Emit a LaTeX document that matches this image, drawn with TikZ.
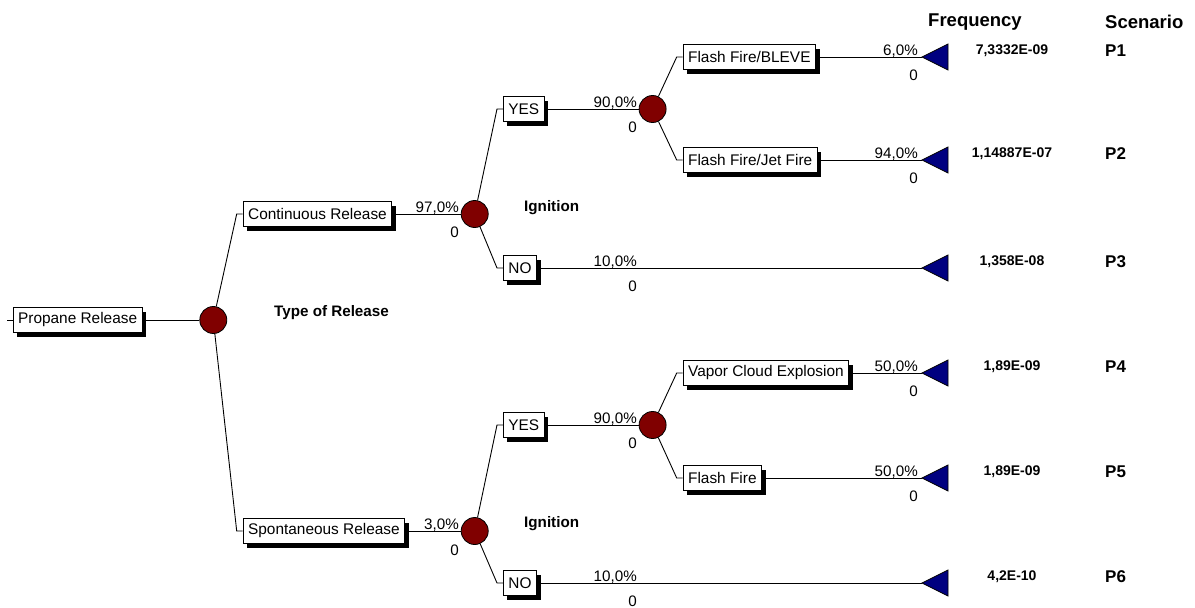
\documentclass[tikz,border=0pt]{standalone}
\usepackage{fontspec}
\setmainfont{Liberation Sans}
\usetikzlibrary{shadows,calc}
\definecolor{chancefill}{RGB}{128,0,0}
\definecolor{endfill}{RGB}{0,0,128}

\tikzset{
  edge/.style={line width=0.9pt},
  eventbox/.style={draw, line width=0.9pt, fill=white, anchor=west,
    minimum height=25pt, inner xsep=5pt, inner ysep=0pt,
    font=\fontsize{15.4}{15.4}\selectfont,
    drop shadow={shadow xshift=4pt, shadow yshift=-4pt, fill=black, opacity=1}},
  chancenode/.style={circle, draw, fill=chancefill, minimum size=27pt,
    inner sep=0pt, line width=0.8pt},
  endtri/.style={draw, fill=endfill, line width=0.8pt},
  prob/.style={anchor=base east, inner sep=0pt, font=\fontsize{15.2}{15.2}\selectfont},
  payoff/.style={anchor=east, inner sep=0pt, font=\fontsize{15.2}{15.2}\selectfont},
  stage/.style={anchor=west, inner sep=0pt, font=\bfseries\fontsize{15.2}{15.2}\selectfont},
  freq/.style={inner sep=0pt, font=\bfseries\fontsize{14}{14}\selectfont},
  scen/.style={anchor=west, inner sep=0pt, font=\bfseries\fontsize{17}{17}\selectfont},
  header/.style={inner sep=0pt, font=\bfseries\fontsize{18.5}{18.5}\selectfont},
}

% branch from a chance node to an event box: slanted line, then a short stub
\newcommand{\branch}[2]{\draw[edge] (#1) -- ($(#2.west)+(-6,0)$) -- (#2.west);}
% terminal triangle whose tip is the named coordinate
\newcommand{\terminaltri}[1]{\filldraw[endtri] (#1) -- ++(26,-13) -- ++(0,26) -- cycle;}

\begin{document}
\begin{tikzpicture}[x=1pt,y=-1pt]
\useasboundingbox (0,0) rectangle (1195,608);

% ---- headers
\node[header] (hfreq) at (975,22) {Frequency};
\node[header,anchor=west] (hscen) at (1105,22) {Scenario};

% ---- root
\node[eventbox] (root) at (12.7,320) {Propane Release};
\node[chancenode] (c0) at (213.3,320) {};
\draw[edge] (root.west) -- ++(-6,0);
\draw[edge] (root.east) -- (c0);
\node[stage] (lrel) at (274,313) {Type of Release};

% ---- type of release
\node[eventbox] (cont) at (242.7,214) {Continuous Release};
\node[eventbox] (spon) at (242.7,531) {Spontaneous Release};
\branch{c0}{cont}
\branch{c0}{spon}

\node[chancenode] (c1) at (474.7,214) {};
\node[chancenode] (c2) at (474.7,531) {};
\draw[edge] (cont.east) -- (c1);
\draw[edge] (spon.east) -- (c2);
\node[prob] (p1) at (459,212) {97,0\%};
\node[payoff] (v1) at (459,232) {0};
\node[prob] (p2) at (459,529) {3,0\%};
\node[payoff] (v2) at (459,550) {0};
\node[stage] (lign1) at (524,208) {Ignition};
\node[stage] (lign2) at (524,524) {Ignition};

% ---- ignition, continuous release
\node[eventbox] (yes1) at (503,109) {YES};
\node[eventbox] (no1) at (503,268) {NO};
\branch{c1}{yes1}
\branch{c1}{no1}
\node[chancenode] (c3) at (652.6,109) {};
\draw[edge] (yes1.east) -- (c3);
\node[prob] (p3) at (637,107) {90,0\%};
\node[payoff] (v3) at (637,127) {0};
\coordinate (t3) at (922,268);
\draw[edge] (no1.east) -- (t3);
\node[prob] (p4) at (637,266) {10,0\%};
\node[payoff] (v4) at (637,286) {0};

% ---- outcomes, continuous release
\node[eventbox] (bleve) at (682.7,57) {Flash Fire/BLEVE};
\node[eventbox] (jet) at (682.7,160) {Flash Fire/Jet Fire};
\branch{c3}{bleve}
\branch{c3}{jet}
\coordinate (t1) at (922,57);
\coordinate (t2) at (922,160);
\draw[edge] (bleve.east) -- (t1);
\draw[edge] (jet.east) -- (t2);
\node[prob] (p5) at (918,55) {6,0\%};
\node[payoff] (v5) at (918,75) {0};
\node[prob] (p6) at (918,158) {94,0\%};
\node[payoff] (v6) at (918,178) {0};

% ---- ignition, spontaneous release
\node[eventbox] (yes2) at (503,425) {YES};
\node[eventbox] (no2) at (503,583) {NO};
\branch{c2}{yes2}
\branch{c2}{no2}
\node[chancenode] (c4) at (652.6,425) {};
\draw[edge] (yes2.east) -- (c4);
\node[prob] (p7) at (637,423) {90,0\%};
\node[payoff] (v7) at (637,443) {0};
\coordinate (t6) at (922,583);
\draw[edge] (no2.east) -- (t6);
\node[prob] (p8) at (637,581) {10,0\%};
\node[payoff] (v8) at (637,601) {0};

% ---- outcomes, spontaneous release
\node[eventbox] (vce) at (682.7,373) {Vapor Cloud Explosion};
\node[eventbox] (ff) at (682.7,478) {Flash Fire};
\branch{c4}{vce}
\branch{c4}{ff}
\coordinate (t4) at (922,373);
\coordinate (t5) at (922,478);
\draw[edge] (vce.east) -- (t4);
\draw[edge] (ff.east) -- (t5);
\node[prob] (p9) at (918,371) {50,0\%};
\node[payoff] (v9) at (918,391) {0};
\node[prob] (p10) at (918,476) {50,0\%};
\node[payoff] (v10) at (918,496) {0};

% ---- terminal nodes
\terminaltri{t1}
\terminaltri{t2}
\terminaltri{t3}
\terminaltri{t4}
\terminaltri{t5}
\terminaltri{t6}

% ---- frequencies and scenarios
\node[freq] (f1) at (1012,51) {7,3332E-09};
\node[freq] (f2) at (1012,154) {1,14887E-07};
\node[freq] (f3) at (1012,262) {1,358E-08};
\node[freq] (f4) at (1012,367) {1,89E-09};
\node[freq] (f5) at (1012,472) {1,89E-09};
\node[freq] (f6) at (1012,577) {4,2E-10};
\node[scen] (s1) at (1105,51) {P1};
\node[scen] (s2) at (1105,154) {P2};
\node[scen] (s3) at (1105,262) {P3};
\node[scen] (s4) at (1105,367) {P4};
\node[scen] (s5) at (1105,472) {P5};
\node[scen] (s6) at (1105,577) {P6};
\end{tikzpicture}
\end{document}
